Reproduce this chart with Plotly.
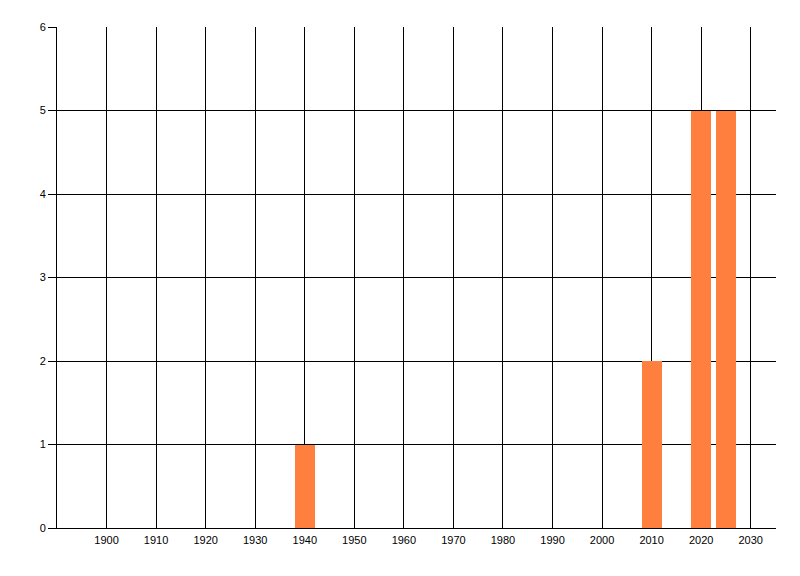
import plotly.graph_objects as go

years = [1940, 2010, 2020, 2025]
counts = [1, 2, 5, 5]
x_ticks = list(range(1900, 2031, 10))
y_ticks = [0, 1, 2, 3, 4, 5, 6]

fig = go.Figure(go.Bar(
    x=years, y=counts, width=4,
    marker=dict(color="#FF7F3F", line=dict(width=0)),
))

fig.update_layout(
    width=792, height=568,
    margin=dict(l=49, r=24, t=19, b=48),
    paper_bgcolor="white", plot_bgcolor="white",
    font=dict(family="Liberation Sans, Arial, sans-serif", size=11, color="black"),
    showlegend=False,
    bargap=0,
)
fig.update_xaxes(
    range=[1890, 2035.1], tickvals=x_ticks, ticktext=[str(t) for t in x_ticks],
    showgrid=True, gridcolor="black", gridwidth=1,
    showline=True, linecolor="black", linewidth=1,
    ticks="", ticklabelstandoff=2, zeroline=False, automargin=False,
)
fig.update_yaxes(
    range=[0, 6], tickvals=y_ticks,
    showgrid=True, gridcolor="black", gridwidth=1,
    showline=True, linecolor="black", linewidth=1,
    ticks="outside", ticklen=8, tickcolor="black", tickwidth=1,
    zeroline=False, automargin=False,
)

fig.write_html("out.html")
